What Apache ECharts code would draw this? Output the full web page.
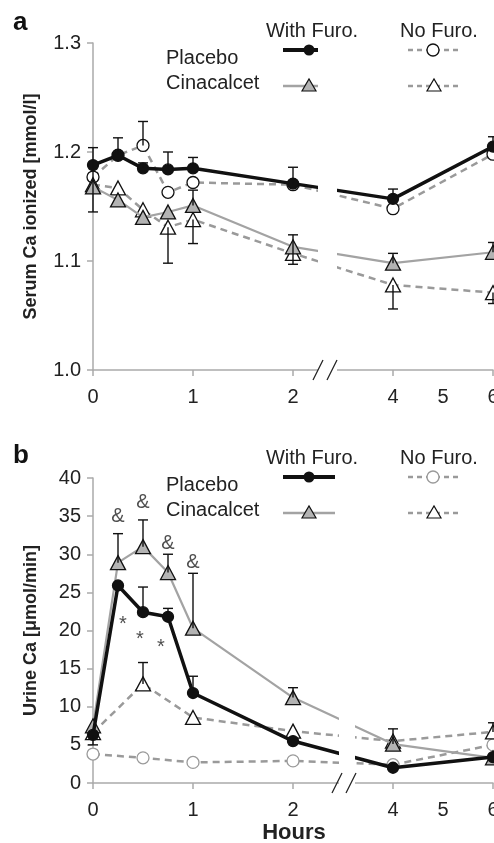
<!DOCTYPE html>
<html>
<head>
<meta charset="utf-8">
<title>Serum and urine Ca</title>
<script src="https://cdn.jsdelivr.net/npm/echarts@6/dist/echarts.min.js"></script>
<style>
  html, body { margin: 0; padding: 0; background: #fff; }
  #chart { width: 494px; height: 843px; }
</style>
</head>
<body>
<div id="chart"></div>
<script>
// time points (hours)
var hours = [0, 0.25, 0.5, 0.75, 1, 2, 4, 6]
var hoursNoB = [0, 0.5, 1, 2, 4, 6]

// panel a: serum Ca ionized [mmol/l]
var plaFuroA = [1.188, 1.197, 1.185, 1.184, 1.185, 1.171, 1.157, 1.205]
var plaNoA = [1.177, 1.197, 1.206, 1.163, 1.172, 1.170, 1.148, 1.198]
var cinFuroA = [1.168, 1.156, 1.140, 1.145, 1.151, 1.113, 1.098, 1.108]
var cinNoA = [1.170, 1.167, 1.147, 1.131, 1.138, 1.107, 1.078, 1.071]
// error bars: [hour, point, low, high]
var errA = [
  [0, 1.175, 1.145, 1.204], [0.25, 1.197, 1.197, 1.213], [0.5, 1.206, 1.206, 1.228],
  [0.5, 1.185, 1.185, 1.190], [0.75, 1.184, 1.184, 1.200], [0.75, 1.131, 1.098, 1.131],
  [1, 1.185, 1.185, 1.195], [1, 1.151, 1.151, 1.165], [1, 1.138, 1.116, 1.138],
  [2, 1.170, 1.170, 1.186], [2, 1.110, 1.097, 1.124], [4, 1.157, 1.157, 1.166],
  [4, 1.098, 1.098, 1.107], [4, 1.078, 1.056, 1.078], [6, 1.205, 1.205, 1.214],
  [6, 1.108, 1.108, 1.117], [6, 1.071, 1.061, 1.071]
]

// panel b: urine Ca [umol/min]
var plaFuroB = [6.3, 25.9, 22.4, 21.8, 11.8, 5.5, 2.0, 3.4]
var cinFuroB = [7.5, 28.9, 31.0, 27.6, 20.3, 11.2, 5.1, 3.3]
var plaNoB = [3.8, 3.3, 2.7, 2.9, 2.4, 5.0]
var cinNoB = [6.6, 13.0, 8.6, 6.8, 5.5, 6.7]
var errB = [
  [0, 6.3, 5.0, 6.3], [0.25, 28.9, 28.9, 32.7], [0.5, 31.0, 31.0, 34.5],
  [0.75, 27.6, 27.6, 30.0], [1, 20.3, 20.3, 27.5], [0.5, 22.4, 22.4, 25.7],
  [0.75, 21.8, 21.8, 22.9], [1, 11.8, 11.8, 14.0], [0.5, 13.0, 13.0, 15.8],
  [2, 11.2, 11.2, 12.5], [4, 5.1, 5.1, 7.1], [6, 6.7, 6.7, 7.9]
]
// significance marks
var ampHours = [0.25, 0.5, 0.75, 1]
var ampVals = [34.9, 36.8, 31.4, 28.9]
var starHours = [0.3, 0.47, 0.68]
var starVals = [20.8, 18.8, 17.8]

// axis: 0..2 h at full scale, 2..6 h at half scale
var tickHours = [0, 1, 2, 4, 5, 6]
function disp (t) { return t <= 2 ? t : 2 + (t - 2) / 2 }
function undisp (d) { return d <= 2 ? d : 2 + (d - 2) * 2 }

var FONT = '"Liberation Sans", Arial, Helvetica, sans-serif'
var GREY = '#a3a3a3'
var DASH = '#9a9a9a'

function pts (xs, ys) {
  return xs.map(function (h, i) { return [disp(h), ys[i]] })
}

function xAxisFor (idx) {
  return {
    type: 'value', gridIndex: idx, min: 0, max: 4,
    axisLine: { lineStyle: { color: '#aaa', width: 1.5 } },
    axisTick: { show: true, length: 6, customValues: [0, 1, 2, 3, 4], lineStyle: { color: '#aaa', width: 1.5 } },
    splitLine: { show: false },
    axisLabel: {
      customValues: tickHours.map(disp),
      formatter: function (v) { return String(Math.round(undisp(v))) },
      fontFamily: FONT, fontSize: 20, color: '#222', margin: 17
    }
  }
}

function yAxisFor (idx, min, max, step, name, dec) {
  return {
    type: 'value', gridIndex: idx, min: min, max: max, interval: step,
    name: name, nameLocation: 'middle', nameGap: 53,
    nameTextStyle: { fontFamily: FONT, fontSize: 18, fontWeight: 'bold', color: '#222' },
    axisLine: { show: true, lineStyle: { color: '#aaa', width: 1.5 } },
    axisTick: { show: true, length: 6, lineStyle: { color: '#aaa', width: 1.5 } },
    splitLine: { show: false },
    axisLabel: {
      formatter: function (v) { return v.toFixed(dec) },
      fontFamily: FONT, fontSize: 20, color: '#222', margin: 12
    }
  }
}

function lineSeries (idx, data, o) {
  return {
    type: 'line', xAxisIndex: idx, yAxisIndex: idx, data: data,
    symbol: o.symbol, symbolSize: o.size, z: o.z,
    itemStyle: { color: o.fill, borderColor: o.border, borderWidth: 1.3 },
    lineStyle: { color: o.line, width: o.width, type: o.dash ? [7, 5] : 'solid' },
    animation: false, silent: true
  }
}

function errSeries (idx, list) {
  return {
    type: 'custom', xAxisIndex: idx, yAxisIndex: idx, z: 6, silent: true, animation: false,
    data: list.map(function (e) { return [disp(e[0]), e[1], e[2], e[3]] }),
    encode: { x: 0, y: [1, 2, 3] },
    renderItem: function (params, api) {
      var x = api.value(0); var c = api.value(1); var lo = api.value(2); var hi = api.value(3)
      var a = api.coord([x, lo]); var b = api.coord([x, hi])
      var st = { stroke: '#111', lineWidth: 1.4 }
      var kids = [{ type: 'line', shape: { x1: a[0], y1: a[1], x2: b[0], y2: b[1] }, style: st }]
      if (hi !== c) kids.push({ type: 'line', shape: { x1: b[0] - 5, y1: b[1], x2: b[0] + 5, y2: b[1] }, style: st })
      if (lo !== c) kids.push({ type: 'line', shape: { x1: a[0] - 5, y1: a[1], x2: a[0] + 5, y2: a[1] }, style: st })
      return { type: 'group', children: kids }
    }
  }
}

// white gap over the lines plus the // marks on the axis
function breakSeries (idx, at, min, max, left, w) {
  return {
    type: 'custom', xAxisIndex: idx, yAxisIndex: idx, z: 20, silent: true, animation: false, clip: false,
    data: [[at, min, max]],
    renderItem: function (params, api) {
      var p = api.coord([api.value(0), api.value(1)])
      var t = api.coord([api.value(0), api.value(2)])
      var st = { stroke: '#222', lineWidth: 1.3 }
      return {
        type: 'group',
        children: [
          { type: 'rect', shape: { x: p[0] + left, y: t[1], width: w, height: p[1] - t[1] + 1 }, style: { fill: '#fff' } },
          { type: 'line', shape: { x1: p[0] - 12, y1: p[1] + 10, x2: p[0] - 2, y2: p[1] - 10 }, style: st },
          { type: 'line', shape: { x1: p[0] + 2, y1: p[1] + 10, x2: p[0] + 12, y2: p[1] - 10 }, style: st }
        ]
      }
    }
  }
}

function marks (idx, xs, ys, txt, size) {
  return {
    type: 'scatter', xAxisIndex: idx, yAxisIndex: idx, symbolSize: 1, z: 8, silent: true, animation: false,
    itemStyle: { color: 'rgba(0,0,0,0)' },
    data: xs.map(function (h, i) { return [disp(h), ys[i]] }),
    label: { show: true, position: 'inside', formatter: txt, fontFamily: FONT, fontSize: size, color: '#222' }
  }
}

// legend drawn as graphic elements
function legendBlock (top, placeboOpenBorder) {
  var txt = function (x, y, s, align) {
    return { type: 'text', x: x, y: y, style: { text: s, font: '20px ' + FONT, fill: '#222', align: align || 'left', verticalAlign: 'middle' } }
  }
  var ln = function (x1, x2, y, color, w, dash) {
    var st = { stroke: color, lineWidth: w }
    if (dash) st.lineDash = [5, 4]
    return { type: 'line', shape: { x1: x1, y1: y, x2: x2, y2: y }, style: st }
  }
  var yT = top; var y1 = top + 19; var y2 = top + 55
  return [
    txt(312, yT, 'With Furo.', 'center'),
    txt(439, yT, 'No Furo.', 'center'),
    txt(166, top + 27, 'Placebo'),
    txt(166, top + 52, 'Cinacalcet'),
    ln(283, 335, y1, '#111', 4),
    { type: 'circle', shape: { cx: 309, cy: y1, r: 5.5 }, style: { fill: '#111' } },
    ln(283, 335, y2, GREY, 2.5),
    { type: 'polygon', shape: { points: [[302, y2 + 5], [316, y2 + 5], [309, y2 - 7]] }, style: { fill: '#b3b3b3', stroke: '#111', lineWidth: 1.2 } },
    ln(408, 460, y1, DASH, 2.5, true),
    { type: 'circle', shape: { cx: 433, cy: y1, r: 6 }, style: { fill: '#fff', stroke: placeboOpenBorder, lineWidth: 1.3 } },
    ln(408, 460, y2, DASH, 2.5, true),
    { type: 'polygon', shape: { points: [[427, y2 + 5], [441, y2 + 5], [434, y2 - 7]] }, style: { fill: '#fff', stroke: '#111', lineWidth: 1.2 } }
  ]
}

var chart = echarts.init(document.getElementById('chart'), null, { renderer: 'canvas' })

var option = {
  backgroundColor: '#fff',
  animation: false,
  grid: [
    { left: 93, top: 43, width: 400, height: 327, outerBoundsMode: 'none', containLabel: false },
    { left: 93, top: 478, width: 400, height: 305, outerBoundsMode: 'none', containLabel: false }
  ],
  xAxis: [xAxisFor(0), xAxisFor(1)],
  yAxis: [
    yAxisFor(0, 1.0, 1.3, 0.1, 'Serum Ca ionized [mmol/l]', 1),
    yAxisFor(1, 0, 40, 5, 'Urine Ca [μmol/min]', 0)
  ],
  graphic: [
    { type: 'text', x: 13, y: 23, style: { text: 'a', font: 'bold 26px ' + FONT, fill: '#111', verticalAlign: 'middle' } },
    { type: 'text', x: 13, y: 456, style: { text: 'b', font: 'bold 26px ' + FONT, fill: '#111', verticalAlign: 'middle' } },
    { type: 'text', x: 294, y: 833, style: { text: 'Hours', font: 'bold 22px ' + FONT, fill: '#222', align: 'center', verticalAlign: 'middle' } }
  ].concat(legendBlock(31, '#111'), legendBlock(458, DASH)),
  series: [
    // panel a
    lineSeries(0, pts(hours, plaNoA), { symbol: 'circle', size: 12, fill: '#fff', border: '#111', line: DASH, width: 2.5, dash: true, z: 2 }),
    lineSeries(0, pts(hours, cinNoA), { symbol: 'triangle', size: [15, 14], fill: '#fff', border: '#111', line: DASH, width: 2.5, dash: true, z: 2 }),
    lineSeries(0, pts(hours, cinFuroA), { symbol: 'triangle', size: [15, 14], fill: '#b3b3b3', border: '#111', line: GREY, width: 2.2, z: 3 }),
    lineSeries(0, pts(hours, plaFuroA), { symbol: 'circle', size: 11, fill: '#111', border: '#111', line: '#111', width: 3.5, z: 4 }),
    errSeries(0, errA),
    breakSeries(0, 2.32, 1.0, 1.3, -7, 19),
    // panel b
    lineSeries(1, pts(hoursNoB, plaNoB), { symbol: 'circle', size: 12, fill: '#fff', border: DASH, line: DASH, width: 2.5, dash: true, z: 2 }),
    lineSeries(1, pts(hoursNoB, cinNoB), { symbol: 'triangle', size: [15, 14], fill: '#fff', border: '#111', line: DASH, width: 2.5, dash: true, z: 2 }),
    lineSeries(1, pts(hours, cinFuroB), { symbol: 'triangle', size: [15, 14], fill: '#b3b3b3', border: '#111', line: GREY, width: 2.2, z: 3 }),
    lineSeries(1, pts(hours, plaFuroB), { symbol: 'circle', size: 11, fill: '#111', border: '#111', line: '#111', width: 3.5, z: 4 }),
    errSeries(1, errB),
    marks(1, ampHours, ampVals, '&', 20),
    marks(1, starHours, starVals, '*', 20),
    breakSeries(1, 2.51, 0, 40, -5, 16)
  ]
}

chart.setOption(option)
</script>
</body>
</html>
